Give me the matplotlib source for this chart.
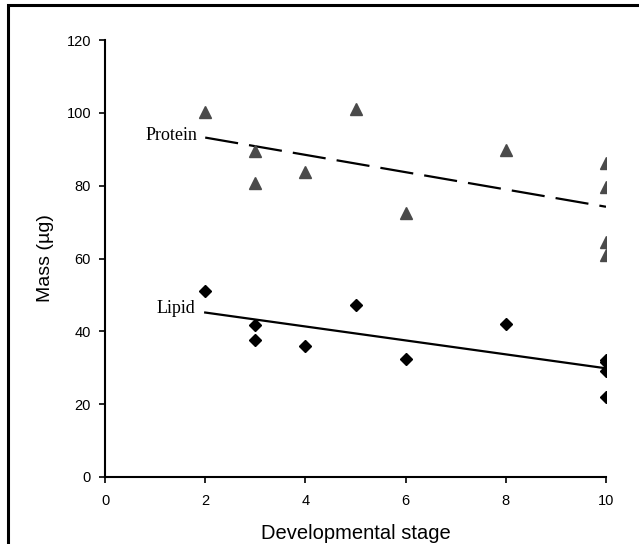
import numpy as np
import matplotlib.pyplot as plt
from matplotlib.patches import Rectangle

# developmental stage vs mass (ug)
protein_stage = [2, 3, 3, 4, 5, 6, 8, 10, 10, 10, 10]
protein_mass = [100.3, 89.6, 80.6, 83.8, 101.0, 72.5, 89.8, 86.2, 79.7, 64.5, 60.9]
lipid_stage = [2, 3, 3, 4, 5, 6, 8, 10, 10, 10, 10]
lipid_mass = [51.0, 41.7, 37.6, 36.0, 47.2, 32.5, 42.1, 32.0, 31.7, 29.1, 22.1]

x_ticks = [0, 2, 4, 6, 8, 10]
y_ticks = [0, 20, 40, 60, 80, 100, 120]

fig = plt.figure(figsize=(6.39, 5.44), dpi=100)
ax = fig.add_axes([105 / 639, 1 - 477 / 544, 501 / 639, 437 / 544])

ax.plot(protein_stage, protein_mass, linestyle='none', marker='^',
        markersize=8.5, color='#4a4a4a', zorder=3)
ax.plot(lipid_stage, lipid_mass, linestyle='none', marker='D',
        markersize=6.5, color='black', zorder=3)

# linear trend lines
xs = np.array([2, 10])
p_fit = np.polyfit(protein_stage, protein_mass, 1)
l_fit = np.polyfit(lipid_stage, lipid_mass, 1)
ax.plot(xs, np.polyval(p_fit, xs), color='black', lw=1.6, dashes=(15, 5))
ax.plot(xs, np.polyval(l_fit, xs), color='black', lw=1.6)

serif = ['Liberation Serif', 'DejaVu Serif']
ax.text(1.85, np.polyval(p_fit, 2) + 0.5, 'Protein', ha='right', va='center',
        family=serif, fontsize=13)
ax.text(1.8, np.polyval(l_fit, 2) + 1.0, 'Lipid', ha='right', va='center',
        family=serif, fontsize=13)

ax.set_xlim(0, 10)
ax.set_ylim(0, 120)
ax.set_xticks(x_ticks)
ax.set_yticks(y_ticks)

sans = ['Liberation Sans', 'DejaVu Sans']
for lab in ax.get_xticklabels() + ax.get_yticklabels():
    lab.set_family(sans)
    lab.set_fontsize(10.5)
ax.tick_params(direction='out', length=4, width=1.2, pad=6)
ax.tick_params(axis='x', pad=8)

for s in ['top', 'right']:
    ax.spines[s].set_visible(False)
for s in ['left', 'bottom']:
    ax.spines[s].set_linewidth(1.5)

ax.set_xlabel('Developmental stage', family=sans, fontsize=14.5, labelpad=12)
ax.set_ylabel('Mass (\u00b5g)', family=sans, fontsize=14, labelpad=9)

# frame around the figure (right and bottom edges fall off the image)
fig.add_artist(Rectangle((8 / 639, -0.1), 1.0, 1 - 5 / 544 + 0.1,
                         transform=fig.transFigure, fill=False,
                         lw=2.2, edgecolor='black'))

fig.savefig('out.png', dpi=100)
